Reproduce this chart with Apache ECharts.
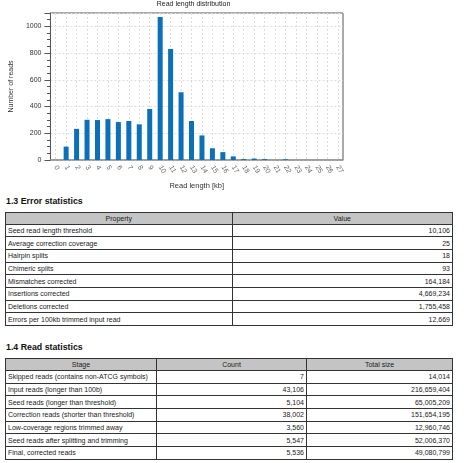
<!DOCTYPE html>
<html>
<head>
<meta charset="utf-8">
<script src="https://cdn.jsdelivr.net/npm/echarts@6/dist/echarts.min.js"></script>
<style>
  body { margin: 0; background: #fff; font-family: "Liberation Sans", Arial, sans-serif; }
  #chart { position: absolute; left: 0; top: 0; width: 470px; height: 195px; }
  .sec { position: absolute; left: 6px; font-size: 8.8px; font-weight: bold; color: #111; line-height: 10px; }
  table { position: absolute; left: 5px; width: 448px; border-collapse: collapse; table-layout: fixed; font-size: 7px; color: #1a1a1a; }
  td, th { border: 1px solid #333; padding: 0 2px; white-space: nowrap; overflow: hidden; }
  th { background: #c4c4c4; font-weight: normal; text-align: center; height: 11px; }
  td { height: 11.7px; }
  td.num { text-align: right; }
</style>
</head>
<body>
<div id="chart"></div>
<div class="sec" style="top:196px">1.3 Error statistics</div>
<table id="errTable" style="top:211.5px"></table>
<div class="sec" style="top:342px">1.4 Read statistics</div>
<table id="readTable" style="top:358px"></table>

<script>
// read length histogram
const lengths = ['0', '1', '2', '3', '4', '5', '6', '7', '8', '9', '10', '11', '12', '13',
  '14', '15', '16', '17', '18', '19', '20', '21', '22', '23', '24', '25', '26', '27'];
const readCounts = [0, 100, 233, 301, 299, 306, 284, 292, 267, 382, 1071, 831, 507, 292,
  184, 88, 59, 27, 7, 11, 7, 0, 5, 0, 0, 0, 0, 0];
const yTicks = [0, 200, 400, 600, 800, 1000];

// 1.3 Error statistics
const errorProps = ['Seed read length threshold', 'Average correction coverage', 'Hairpin splits',
  'Chimeric splits', 'Mismatches corrected', 'Insertions corrected', 'Deletions corrected',
  'Errors per 100kb trimmed input read'];
const errorValues = ['10,106', '25', '18', '93', '164,184', '4,669,234', '1,755,458', '12,669'];

// 1.4 Read statistics
const stages = ['Skipped reads (contains non-ATCG symbols)', 'Input reads (longer than 100b)',
  'Seed reads (longer than threshold)', 'Correction reads (shorter than threshold)',
  'Low-coverage regions trimmed away', 'Seed reads after splitting and trimming', 'Final, corrected reads'];
const stageCounts = ['7', '43,106', '5,104', '38,002', '3,560', '5,547', '5,536'];
const stageSizes = ['14,014', '216,659,404', '65,005,209', '151,654,195', '12,960,746', '52,006,370', '49,080,799'];

const FONT = '"Liberation Sans", Arial, sans-serif';

const chart = echarts.init(document.getElementById('chart'));
chart.setOption({
  animation: false,
  textStyle: { fontFamily: FONT },
  graphic: [{
    type: 'text', x: 193.5, y: 4,
    style: { text: 'Read length distribution', align: 'center', verticalAlign: 'middle',
      fontSize: 7, fill: '#222', fontFamily: FONT }
  }],
  grid: { left: 44, right: 127, top: 13, bottom: 33, show: true, borderColor: '#555', borderWidth: 1 },
  xAxis: {
    type: 'category',
    data: lengths,
    name: 'Read length [kb]',
    nameLocation: 'middle',
    nameGap: 16,
    nameTextStyle: { fontSize: 7.5, color: '#333' },
    axisLine: { lineStyle: { color: '#999', width: 1.5 } },
    axisTick: { show: false },
    axisLabel: { interval: 0, rotate: -60, fontSize: 7, color: '#666', margin: 6 },
    splitLine: { show: true, alignWithLabel: true, lineStyle: { color: '#ddd', type: [2, 2] } }
  },
  yAxis: {
    type: 'value',
    min: 0,
    max: 1100,
    interval: 200,
    name: 'Number of reads',
    nameLocation: 'middle',
    nameGap: 28,
    nameTextStyle: { fontSize: 7, color: '#333' },
    axisLine: { show: true, lineStyle: { color: '#555' } },
    axisTick: { show: true, length: 6, lineStyle: { color: '#555' } },
    minorTick: { show: true, splitNumber: 4, length: 3.5, lineStyle: { color: '#555' } },
    axisLabel: {
      fontSize: 7, color: '#333', margin: 9, showMaxLabel: false,
      formatter: v => (yTicks.indexOf(v) >= 0 ? String(v) : '')
    },
    splitLine: { show: true, lineStyle: { color: '#ddd', type: [2, 2] } }
  },
  series: [{
    type: 'bar',
    data: readCounts,
    barWidth: 5,
    itemStyle: { color: '#0a70b8' }
  }]
});

function buildTable(el, headers, cols, numeric) {
  let html = '<tr>' + headers.map(h => '<th>' + h + '</th>').join('') + '</tr>';
  for (let i = 0; i < cols[0].length; i++) {
    html += '<tr>' + cols.map((c, j) =>
      '<td' + (numeric[j] ? ' class="num"' : '') + '>' + c[i] + '</td>').join('') + '</tr>';
  }
  el.innerHTML = html;
}

buildTable(document.getElementById('errTable'), ['Property', 'Value'],
  [errorProps, errorValues], [false, true]);
buildTable(document.getElementById('readTable'), ['Stage', 'Count', 'Total size'],
  [stages, stageCounts, stageSizes], [false, true, true]);

document.querySelectorAll('#errTable tr:first-child th')[0].style.width = '221.5px';
document.querySelectorAll('#readTable tr:first-child th')[0].style.width = '146px';
document.querySelectorAll('#readTable tr:first-child th')[1].style.width = '145px';
</script>
</body>
</html>
